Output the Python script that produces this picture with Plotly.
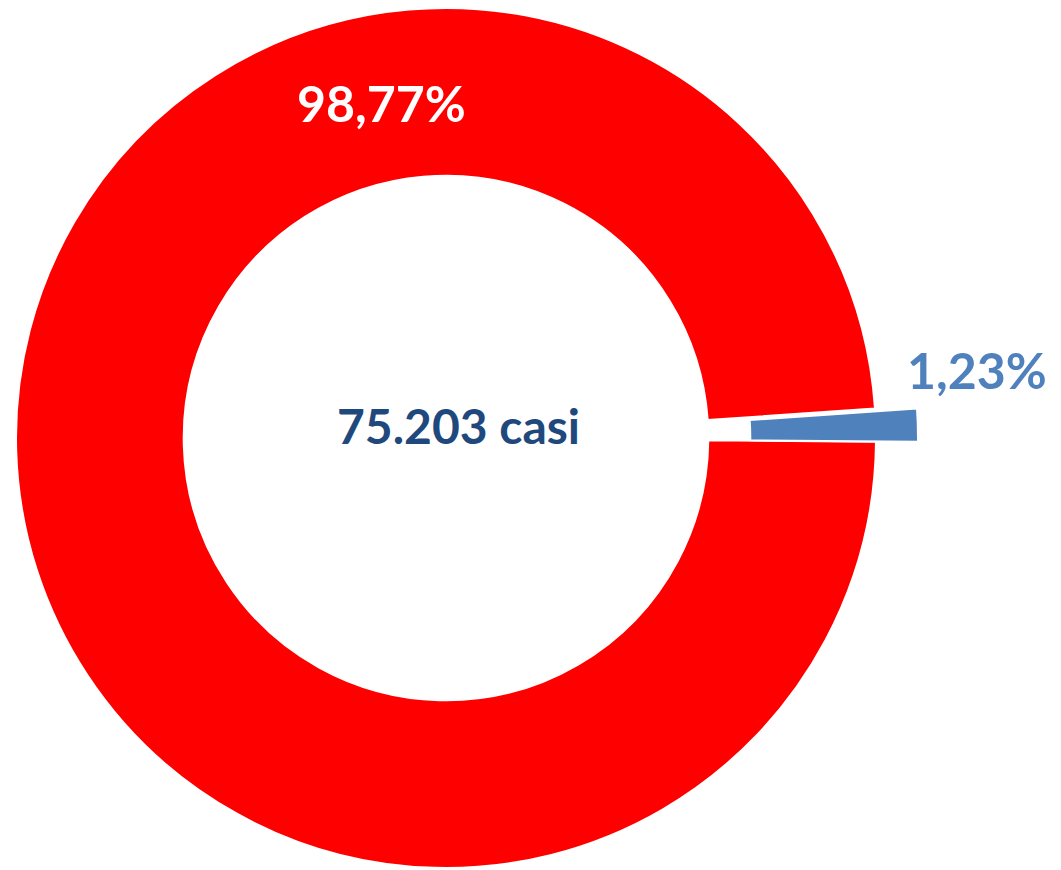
import plotly.graph_objects as go

# data
slice_labels = ["Quota maggiore", "Quota minore"]
slice_shares = [98.77, 1.23]
slice_colors = ["#FF0000", "#4F81BD"]
total_cases = 75203

# the page body adds an 8px margin, so the figure is drawn 8px smaller
OFF = 8
W, H = 1061 - OFF, 870 - OFF
cx, cy, r = 446 - OFF, 438 - OFF, 430   # ring centre / radius in px
pull_px = 42                            # offset of the detached slice


def pct(v):
    return f"{v:.2f}".replace(".", ",") + "%"


def dom(x0, y0):
    # pixel box -> paper domain (y measured from the top)
    return dict(x=[(x0 - r) / W, (x0 + r) / W],
                y=[max(0, (H - y0 - r) / H), min(1, (H - y0 + r) / H)])


def px(x, y):
    return dict(x=(x - OFF) / W, y=1 - (y - OFF) / H, xref="paper", yref="paper",
                xanchor="center", yanchor="middle", showarrow=False)


clear = "rgba(0,0,0,0)"
common = dict(labels=slice_labels, values=slice_shares, sort=False,
              direction="clockwise", rotation=90.5, hole=0.61,
              textinfo="none", hoverinfo="label+percent")

fig = go.Figure()
# main ring, the small slice left empty
fig.add_trace(go.Pie(
    marker=dict(colors=[slice_colors[0], clear],
                line=dict(color="white", width=[2, 0])),
    domain=dom(cx, cy), **common,
))
# detached small slice, drawn as a second pie shifted right
fig.add_trace(go.Pie(
    marker=dict(colors=[clear, slice_colors[1]],
                line=dict(color="white", width=[0, 2])),
    domain=dom(cx + pull_px, cy), **common,
))

font = dict(family="Lato, 'Open Sans', sans-serif", weight="bold")
fig.add_annotation(**px(381, 103), text=pct(slice_shares[0]),
                   font=dict(font, size=50, color="white"))
fig.add_annotation(**px(977, 370), text=pct(slice_shares[1]),
                   font=dict(font, size=50, color=slice_colors[1]))
fig.add_annotation(**px(458, 425),
                   text=f"{total_cases:,}".replace(",", ".") + " casi",
                   font=dict(font, size=48, color="#1F497D"))

fig.update_layout(
    width=W, height=H, showlegend=False,
    margin=dict(l=0, r=0, t=0, b=0),
    paper_bgcolor="white", plot_bgcolor="white",
)

fig.write_html("out.html")
